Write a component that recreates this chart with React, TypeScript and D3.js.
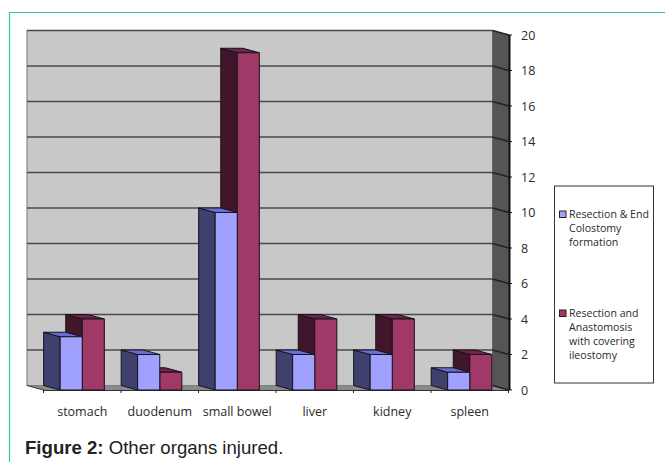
import React from "react";
import * as d3 from "d3";

const categories = ["stomach", "duodenum", "small bowel", "liver", "kidney", "spleen"];
const colostomyValues = [3, 2, 10, 2, 2, 1];
const ileostomyValues = [4, 1, 19, 4, 4, 2];
const yTicks = [0, 2, 4, 6, 8, 10, 12, 14, 16, 18, 20];
const colostomyLegend = ["Resection & End", "Colostomy", "formation"];
const ileostomyLegend = ["Resection and", "Anastomosis", "with covering", "ileostomy"];

const W = 665, H = 462;
const DX = 16.5, DY = 4.5;
const x = d3.scaleBand<string>().domain(categories).range([43.5, 508.5]).paddingInner(0.43).paddingOuter(0.215);
const y = d3.scaleLinear().domain([0, 20]).range([390, 35]);
const sub = d3.scaleBand<string>().domain(["a", "b"]).range([0, x.bandwidth()]).padding(0);

const blue = { front: "#a0a0ff", side: "#40406e", top: "#6c6cd8" };
const crimson = { front: "#a03868", side: "#43142b", top: "#70204c" };
const pts = (p: number[][]) => p.map((q) => q.join(",")).join(" ");

function Bar({ left, width, value, c }: { left: number; width: number; value: number; c: typeof blue }) {
  const t = y(value), b = y(0), r = left + width;
  return (
    <g stroke="#141418" strokeWidth={1} strokeLinejoin="round">
      <polygon fill={c.side} points={pts([[left - DX, t - DY], [left, t], [left, b], [left - DX, b - DY]])} />
      <polygon fill={c.top} points={pts([[left - DX, t - DY], [r - DX, t - DY], [r, t], [left, t]])} />
      <rect x={left} y={t} width={width} height={b - t} fill={c.front} />
    </g>
  );
}

export default function App() {
  const y0 = y(0), y20 = y(20), xL = 43.5, xR = 509;
  return (
    <svg width={W} height={H} viewBox={`0 0 ${W} ${H}`} style={{ position: "absolute", left: 0, top: 0, background: "#fff" }}>
      <defs>
        <filter id="soft" x="-2%" y="-2%" width="104%" height="104%">
          <feGaussianBlur stdDeviation="0.35" />
        </filter>
      </defs>
      <path d={`M9.5 462V12.5H665`} fill="none" stroke="#2fc6ae" strokeWidth={1.2} />
      <g filter="url(#soft)">
        <rect x={xL - DX} y={y20 - DY} width={xR - xL} height={y0 - y20} fill="#c8c8c8" stroke="#777" strokeWidth={1} />
        <polygon fill="#8a8a8a" points={pts([[xL - DX, y0 - DY], [xR - DX, y0 - DY], [xR, y0], [xL, y0]])} />
        <polygon fill="#555555" points={pts([[xR - DX, y20 - DY], [xR, y20], [xR, y0], [xR - DX, y0 - DY]])} />
        {yTicks.map((t) => (
          <g key={t} fill="none" stroke="#4a4a4a" strokeWidth={1.5}>
            {t > 0 && <line x1={xL - DX} x2={xR - DX} y1={y(t) - DY} y2={y(t) - DY} />}
            <line x1={xR - DX} x2={xR} y1={y(t) - DY} y2={y(t)} stroke="#222" />
            <line x1={xR} x2={xR + 3} y1={y(t)} y2={y(t)} stroke="#222" strokeWidth={1} />
          </g>
        ))}
        <line x1={xL - DX} x2={xL} y1={y0 - DY} y2={y0} stroke="#333" />
        <line x1={xL} x2={xR} y1={y0 + 0.5} y2={y0 + 0.5} stroke="#333" />
        <line x1={xR + 0.5} x2={xR + 0.5} y1={y20} y2={y0} stroke="#111" strokeWidth={2} />
        {x.domain().map((c) => (
          <line key={c} x1={x(c)! - x.step() * 0.215} x2={x(c)! - x.step() * 0.215} y1={y0} y2={y0 + 3} stroke="#222" />
        ))}
        <line x1={xR - 0.5} x2={xR - 0.5} y1={y0} y2={y0 + 3} stroke="#222" />
        {categories.map((c, i) => (
          <g key={c}>
            <Bar left={x(c)! + sub("b")!} width={sub.bandwidth()} value={ileostomyValues[i]} c={crimson} />
            <Bar left={x(c)! + sub("a")!} width={sub.bandwidth()} value={colostomyValues[i]} c={blue} />
          </g>
        ))}
      </g>
      <g fontFamily="'Open Sans', 'Noto Sans', sans-serif" fontSize={12.5} fill="#2a2a2a">
        {yTicks.map((t) => (
          <text key={t} x={521} y={y(t) + 4.5}>{t}</text>
        ))}
        {categories.map((c) => (
          <text key={c} x={x(c)! + x.bandwidth() / 2} y={415.5} textAnchor="middle">{c}</text>
        ))}
      </g>
      <rect x={554.5} y={186} width={99} height={197} fill="#fff" stroke="#333" strokeWidth={1} />
      <rect x={559.5} y={211} width={6.5} height={6.5} fill={blue.front} stroke="#222" />
      <rect x={559.5} y={310} width={6.5} height={6.5} fill={crimson.front} stroke="#222" />
      <g fontFamily="'Open Sans', 'Noto Sans', sans-serif" fontSize={10.6} fill="#2a2a2a">
        {colostomyLegend.map((l, i) => (
          <text key={l} x={569} y={218 + i * 14}>{l}</text>
        ))}
        {ileostomyLegend.map((l, i) => (
          <text key={l} x={569} y={317 + i * 14}>{l}</text>
        ))}
      </g>
      <text x={25} y={454} fontFamily="'Liberation Sans', Arial, sans-serif" fontSize={18.6} fill="#222">
        <tspan fontWeight="bold">Figure 2:</tspan> Other organs injured.
      </text>
    </svg>
  );
}
